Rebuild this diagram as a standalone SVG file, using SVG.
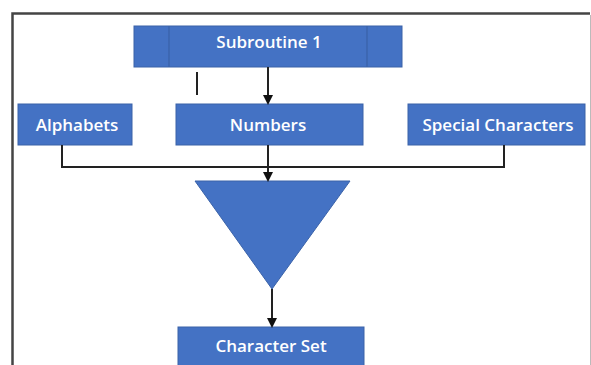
<svg xmlns="http://www.w3.org/2000/svg" width="591" height="365" viewBox="0 0 591 365">
<defs>
<style>
.box{fill:#4472C4;stroke:#3A62A8;stroke-width:1}
.lbl{fill:#fff;font-family:"Open Sans","Liberation Sans",sans-serif;font-size:17px;font-weight:600;text-anchor:middle;dominant-baseline:central}
.con{fill:none;stroke:#222;stroke-width:2}
</style>
<marker id="ah" markerWidth="10" markerHeight="10" refX="8" refY="5" orient="auto" markerUnits="userSpaceOnUse">
<path d="M0,0 L10,5 L0,10 Z" fill="#111"/>
</marker>
</defs>
<rect x="0" y="0" width="591" height="365" fill="#fff"/>
<path d="M12.5,380 V13.5 H590" fill="none" stroke="#444" stroke-width="2.5"/>
<line x1="590.5" y1="15" x2="590.5" y2="365" stroke="#bbb" stroke-width="1"/>
<g id="subroutine">
<rect class="box" x="134" y="26" width="268" height="41"/>
<line x1="169" y1="26" x2="169" y2="67" stroke="#3A62A8" stroke-width="1.2"/>
<line x1="367" y1="26" x2="367" y2="67" stroke="#3A62A8" stroke-width="1.2"/>
<text class="lbl" x="269" y="41">Subroutine 1</text>
</g>
<g id="alphabets">
<rect class="box" x="18" y="104" width="114" height="41"/>
<text class="lbl" x="77" y="124">Alphabets</text>
</g>
<g id="numbers">
<rect class="box" x="176" y="104" width="187" height="41"/>
<text class="lbl" x="268" y="124">Numbers</text>
</g>
<g id="special">
<rect class="box" x="408" y="104" width="177" height="41"/>
<text class="lbl" x="498" y="124">Special Characters</text>
</g>
<g id="merge">
<polygon class="box" points="195,181 350,181 272,289"/>
</g>
<g id="charset">
<rect class="box" x="178" y="327" width="186" height="45"/>
<text class="lbl" x="271" y="345">Character Set</text>
</g>
<g id="connectors">
<line class="con" x1="197" y1="72" x2="197" y2="95"/>
<line class="con" x1="268" y1="67" x2="268" y2="103" marker-end="url(#ah)"/>
<path class="con" d="M62,145 V167 H504 V145"/>
<line class="con" x1="268" y1="145" x2="268" y2="180" marker-end="url(#ah)"/>
<line class="con" x1="272" y1="289" x2="272" y2="326" marker-end="url(#ah)"/>
</g>
</svg>
